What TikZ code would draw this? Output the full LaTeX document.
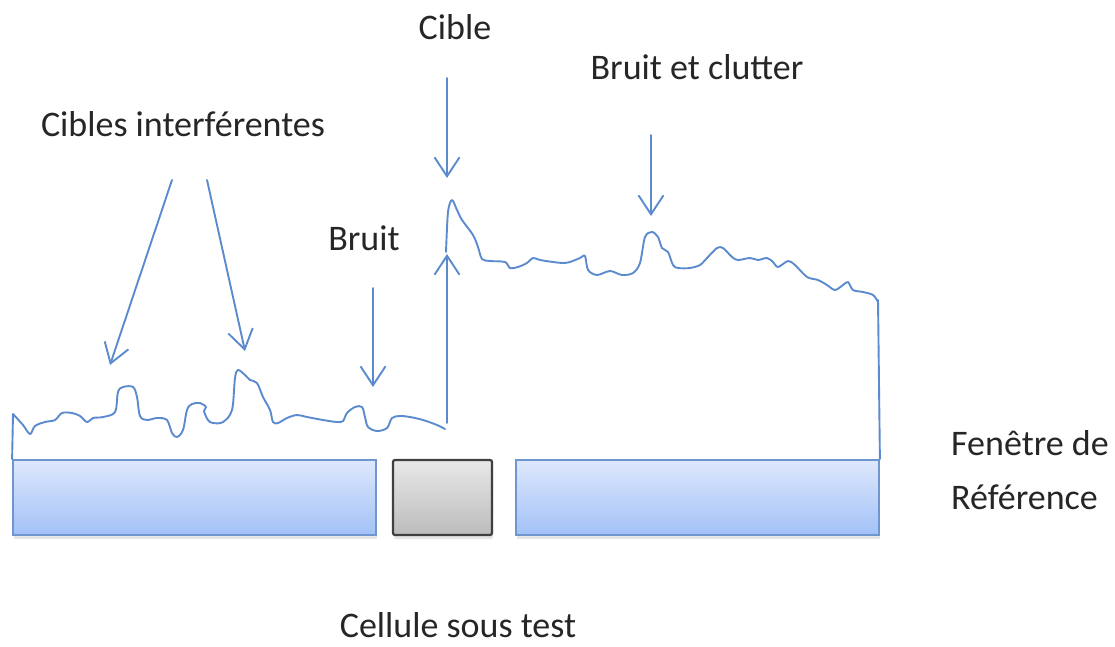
\documentclass[tikz,border=0pt]{standalone}
\usepackage{fontspec}
\setmainfont{Carlito}
\usetikzlibrary{arrows.meta,shadows}
\definecolor{sig}{RGB}{91,139,206}
\definecolor{boxtop}{RGB}{222,232,252}
\definecolor{boxbot}{RGB}{162,193,247}
\definecolor{boxedge}{RGB}{112,150,208}
\definecolor{graytop}{RGB}{232,232,232}
\definecolor{graybot}{RGB}{188,188,188}
\definecolor{grayedge}{RGB}{64,64,64}
\tikzset{
  sigline/.style={draw=sig, line width=1.9pt, line join=round, line cap=round},
  pointer/.style={sigline, -{Straight Barb[length=19pt,width=25pt,line width=1.9pt]}},
  label/.style={font=\fontsize{36}{40}\selectfont, text=black!85, inner sep=0pt},
  winbox/.style={draw=boxedge, line width=1.8pt, top color=boxtop, bottom color=boxbot,
     drop shadow={shadow xshift=1pt, shadow yshift=-4pt, opacity=0.2}},
  cellbox/.style={draw=grayedge, line width=2.2pt, rounded corners=2pt, top color=graytop, bottom color=graybot,
     drop shadow={shadow xshift=1pt, shadow yshift=-4pt, opacity=0.2}}
}
\begin{document}
\begin{tikzpicture}[x=1pt,y=-1pt]
\useasboundingbox (0,0) rectangle (1115,646);
% boxes
\node[winbox, minimum width=363pt, minimum height=75pt, inner sep=0pt] (wl) at (194.5,497.5) {};
\node[cellbox, minimum width=99pt, minimum height=75pt, inner sep=0pt] (cut) at (442.5,497.5) {};
\node[winbox, minimum width=363pt, minimum height=75pt, inner sep=0pt] (wr) at (697.5,497.5) {};
% signal
\coordinate (s0) at (13,414);
\coordinate (jmp) at (447,423);
\coordinate (tip) at (447,254);
\coordinate (e0) at (878,300);
\draw[sigline] (wl.north west) -- (s0);
\draw[sigline] plot[smooth, tension=0.55] coordinates {
 (13,414) (23,425) (30,434) (35,426) (45,422) (55,420) (62,413) (72,413) (80,416) (87,422)
 (93,418) (103,417) (115,412) (118,392) (123,387) (133,387) (137,397) (140,416) (147,420)
 (157,418) (167,420) (172,433) (177,437) (183,430) (187,410) (192,404) (200,403) (206,407)
 (204,411) (208,420) (213,423) (223,422) (232,410) (235,378) (238,370) (245,375) (250,380)
 (257,383) (263,397) (270,410) (273,422) (278,423) (287,418) (297,415) (307,417) (323,420)
 (337,422) (343,421) (347,413) (355,407) (362,407) (365,417) (368,427) (377,431) (387,428)
 (392,418) (400,416) (410,417) (423,420) (437,425) (445,429)};
\draw[pointer] (jmp) -- (tip);
\draw[sigline] plot[smooth, tension=0.5] coordinates {
 (446,252) (448,212) (452,200) (457,210) (462,220) (473,235) (478,247) (482,259) (490,261)
 (505,262) (510,268) (518,267) (527,263) (533,258) (540,260) (553,262) (563,263) (570,262)
 (580,258) (585,256) (588,270) (597,275) (610,271) (622,275) (633,273) (640,263) (645,237)
 (652,232) (658,237) (662,248) (668,252) (673,265) (678,268) (690,268) (700,265) (707,258)
 (717,248) (723,248) (732,257) (738,260) (750,258) (758,260) (767,258) (773,262) (778,267)
 (788,261) (795,265) (807,277) (818,280) (827,285) (835,290) (843,285) (848,282) (853,290)
 (863,292) (873,295) (878,302)};
\draw[sigline] (e0) -- (wr.north east);
% labels
\node[label] (cible) at (455,27) {Cible};
\node[label] (clutter) at (697,67) {Bruit et clutter};
\node[label] (inter) at (183,124) {Cibles interférentes};
\node[label] (bruit) at (364,238) {Bruit};
\node[label, anchor=west] (fen) at (951,443) {Fenêtre de};
\node[label, anchor=west] (ref) at (951,497) {Référence};
\node[label] (cst) at (458,625) {Cellule sous test};
% pointers
\coordinate (a1s) at (447,78);  \coordinate (a1e) at (447,178);
\coordinate (a2s) at (651,135); \coordinate (a2e) at (651,216);
\coordinate (a3s) at (373,288); \coordinate (a3e) at (373,387);
\coordinate (a4s) at (172,180); \coordinate (a4e) at (110,365);
\coordinate (a5s) at (207,180); \coordinate (a5e) at (245,351);
\draw[pointer] (a1s) -- (a1e);
\draw[pointer] (a2s) -- (a2e);
\draw[pointer] (a3s) -- (a3e);
\draw[pointer] (a4s) -- (a4e);
\draw[pointer] (a5s) -- (a5e);
\end{tikzpicture}
\end{document}
